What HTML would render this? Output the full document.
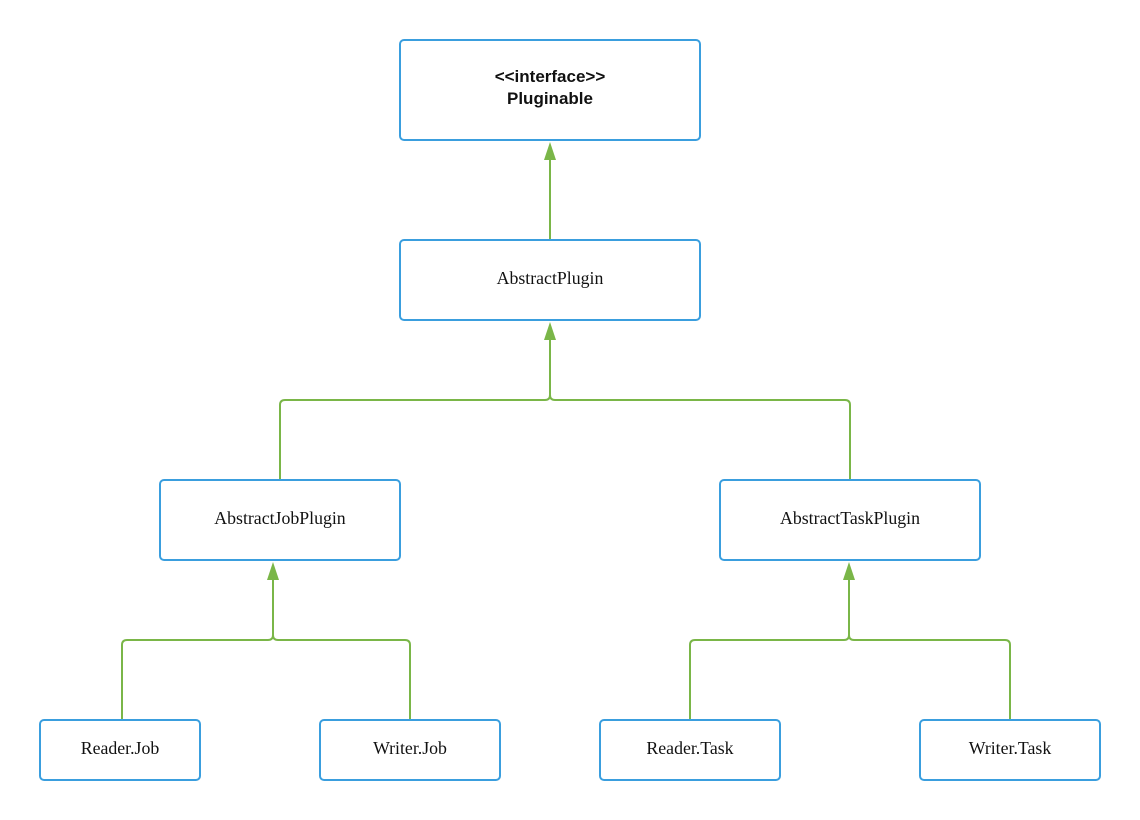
<!DOCTYPE html>
<html><head><style>
body{margin:0;background:#fff;width:1140px;height:820px;position:relative;overflow:hidden}
.b{position:absolute;box-sizing:border-box;border:2px solid #3a9ede;border-radius:5px;background:#fff;display:flex;align-items:center;justify-content:center;text-align:center;font-family:"Liberation Serif",serif;font-size:17.8px;color:#111;padding-bottom:4px}
svg{position:absolute;left:0;top:0}
</style></head><body>
<svg width="1140" height="820">
<g fill="none" stroke="#7ab648" stroke-width="2">
<path d="M550 240 V155"/>
<path d="M280 480 V405 Q280 400 285 400 H545 Q550 400 550 395 V335"/>
<path d="M850 480 V405 Q850 400 845 400 H555 Q550 400 550 395"/>
<path d="M122 720 V645 Q122 640 127 640 H268 Q273 640 273 635 V575"/>
<path d="M410 720 V645 Q410 640 405 640 H278 Q273 640 273 635"/>
<path d="M690 720 V645 Q690 640 695 640 H844 Q849 640 849 635 V575"/>
<path d="M1010 720 V645 Q1010 640 1005 640 H854 Q849 640 849 635"/>
</g>
<g fill="#7ab648">
<path d="M550 142 L556 160 L544 160 Z"/>
<path d="M550 322 L556 340 L544 340 Z"/>
<path d="M273 562 L279 580 L267 580 Z"/>
<path d="M849 562 L855 580 L843 580 Z"/>
</g></svg>
<div class="b" style="left:399px;top:39px;width:302px;height:102px;font-family:'Liberation Sans',sans-serif;font-weight:bold;font-size:17px;line-height:22px">&lt;&lt;interface&gt;&gt;<br>Pluginable</div>
<div class="b" style="left:399px;top:239px;width:302px;height:82px">AbstractPlugin</div>
<div class="b" style="left:159px;top:479px;width:242px;height:82px">AbstractJobPlugin</div>
<div class="b" style="left:719px;top:479px;width:262px;height:82px">AbstractTaskPlugin</div>
<div class="b" style="left:39px;top:719px;width:162px;height:62px">Reader.Job</div>
<div class="b" style="left:319px;top:719px;width:182px;height:62px">Writer.Job</div>
<div class="b" style="left:599px;top:719px;width:182px;height:62px">Reader.Task</div>
<div class="b" style="left:919px;top:719px;width:182px;height:62px">Writer.Task</div>
</body></html>
